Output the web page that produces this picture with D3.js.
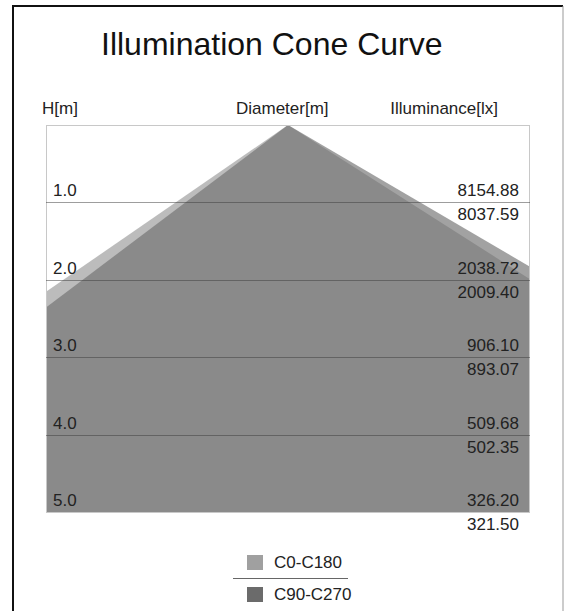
<!DOCTYPE html>
<html>
<head>
<meta charset="utf-8">
<script src="https://cdn.jsdelivr.net/npm/d3@7"></script>
<style>
  body { margin: 0; background: #fff; }
  svg { display: block; font-family: "Liberation Sans", Arial, sans-serif; }
</style>
</head>
<body>
<div id="chart"></div>
<script>
// heights (m) and illuminance (lx) per C-plane pair
const heights = [1, 2, 3, 4, 5];
const illumC0 = [8154.88, 2038.72, 906.10, 509.68, 326.20];
const illumC90 = [8037.59, 2009.40, 893.07, 502.35, 321.50];
const seriesNames = ['C0-C180', 'C90-C270'];
// cone half-width (m) per metre of height, [left, right]
const spreadC0 = [2.32, 2.51];
const spreadC90 = [2.12, 2.73];

const W = 564, H = 611;
const plot = { left: 46, right: 530, top: 125, bottom: 512 };

const svg = d3.select('#chart').append('svg')
  .attr('width', W).attr('height', H);

// outer frame
svg.append('path')
  .attr('d', `M13,${H} L13,6 L563,6`)
  .attr('fill', 'none').attr('stroke', '#111').attr('stroke-width', 2);
svg.append('line')
  .attr('x1', 563).attr('x2', 563).attr('y1', 6).attr('y2', H)
  .attr('stroke', '#999').attr('stroke-width', 1);

svg.append('text')
  .attr('x', 101).attr('y', 55)
  .attr('font-size', 32).attr('fill', '#111')
  .text('Illumination Cone Curve');

// column headers
const headers = [['H[m]', 42, 'start'], ['Diameter[m]', 236, 'start'], ['Illuminance[lx]', 498, 'end']];
svg.selectAll('.hdr').data(headers).join('text')
  .attr('class', 'hdr')
  .attr('x', d => d[1]).attr('y', 114)
  .attr('text-anchor', d => d[2])
  .attr('font-size', 17).attr('fill', '#222')
  .text(d => d[0]);

const x = d3.scaleLinear().domain([-5, 5]).range([plot.left, plot.right]);
const y = d3.scaleLinear().domain([0, 5]).range([plot.top, plot.bottom]);

svg.append('clipPath').attr('id', 'clip')
  .append('rect')
  .attr('x', plot.left).attr('y', plot.top)
  .attr('width', plot.right - plot.left).attr('height', plot.bottom - plot.top);

const hMax = d3.max(heights);
const cones = [
  { spread: spreadC0, fill: '#a0a0a0', op: 0.7 },
  { spread: spreadC90, fill: '#6e6e6e', op: 0.64 }
];
const line = d3.line().x(d => x(d[0])).y(d => y(d[1]));

svg.append('g').attr('clip-path', 'url(#clip)')
  .selectAll('path').data(cones).join('path')
  .attr('d', c => line([[0, 0], [-c.spread[0] * hMax, hMax], [c.spread[1] * hMax, hMax]]) + 'Z')
  .attr('fill', d => d.fill)
  .attr('fill-opacity', d => d.op);

// plot frame
svg.append('rect')
  .attr('x', plot.left + 0.5).attr('y', plot.top + 0.5)
  .attr('width', plot.right - plot.left - 1).attr('height', plot.bottom - plot.top)
  .attr('fill', 'none').attr('stroke', '#c8c8c8');

// height grid lines
svg.selectAll('.grid').data(heights.filter(h => h < hMax)).join('line')
  .attr('class', 'grid')
  .attr('x1', plot.left).attr('x2', plot.right)
  .attr('y1', d => Math.round(y(d)) + 0.5).attr('y2', d => Math.round(y(d)) + 0.5)
  .attr('stroke', 'rgba(60,60,60,0.5)');

const fmtH = d3.format('.1f'), fmtL = d3.format('.2f');
const lbl = svg.append('g').attr('font-size', 17).attr('fill', '#222');

lbl.selectAll('.hl').data(heights).join('text')
  .attr('x', 53).attr('y', d => y(d) - 6)
  .text(d => fmtH(d));

lbl.selectAll('.c0').data(illumC0).join('text')
  .attr('x', 519).attr('y', (d, i) => y(heights[i]) - 6)
  .attr('text-anchor', 'end')
  .text(d => fmtL(d));

lbl.selectAll('.c90').data(illumC90).join('text')
  .attr('x', 519).attr('y', (d, i) => y(heights[i]) + 18)
  .attr('text-anchor', 'end')
  .text(d => fmtL(d));

// legend
const legend = svg.append('g');
const legendY = [555, 587];
const legendFill = ['#a0a0a0', '#6b6b6b'];
legend.selectAll('rect').data(seriesNames).join('rect')
  .attr('x', 247).attr('y', (d, i) => legendY[i])
  .attr('width', 16).attr('height', 15)
  .attr('fill', (d, i) => legendFill[i]);
legend.selectAll('text').data(seriesNames).join('text')
  .attr('x', 274).attr('y', (d, i) => legendY[i] + 13)
  .attr('font-size', 17).attr('fill', '#222')
  .text(d => d);
legend.append('line')
  .attr('x1', 233).attr('x2', 348).attr('y1', 578.5).attr('y2', 578.5)
  .attr('stroke', '#666');
</script>
</body>
</html>
